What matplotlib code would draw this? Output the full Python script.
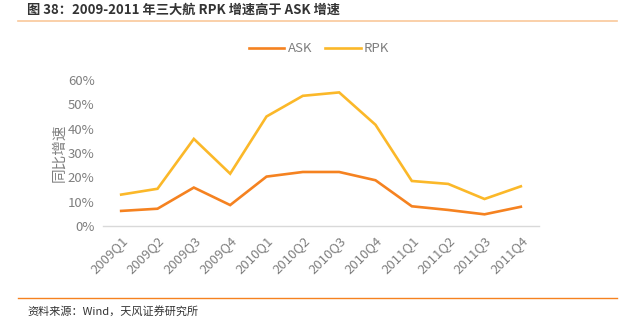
import matplotlib
matplotlib.use("Agg")
import matplotlib.pyplot as plt
from matplotlib.lines import Line2D
from matplotlib.ticker import FuncFormatter

plt.rcParams['font.family'] = ['Noto Sans CJK SC', 'DejaVu Sans']

quarters = ["2009Q1", "2009Q2", "2009Q3", "2009Q4",
            "2010Q1", "2010Q2", "2010Q3", "2010Q4",
            "2011Q1", "2011Q2", "2011Q3", "2011Q4"]
ask = [6.2, 7.1, 15.8, 8.6, 20.3, 22.2, 22.2, 18.8, 8.1, 6.6, 4.8, 7.9]
rpk = [12.9, 15.3, 35.8, 21.5, 45.0, 53.5, 54.9, 41.6, 18.5, 17.3, 11.1, 16.3]
yticks = [0, 10, 20, 30, 40, 50, 60]

ask_color = "#F58220"
rpk_color = "#FBB829"
gray = "#7F7F7F"

fig = plt.figure(figsize=(6.38, 3.22), dpi=100)
ax = fig.add_axes([103 / 638, 1 - 226 / 322, 436 / 638, 146 / 322])

x = range(len(quarters))
ax.plot(x, ask, color=ask_color, lw=1.9, label="ASK", solid_joinstyle="miter")
ax.plot(x, rpk, color=rpk_color, lw=1.9, label="RPK", solid_joinstyle="miter")

ax.set_xlim(-0.5, len(quarters) - 0.5)
ax.set_ylim(0, 60)
ax.set_yticks(yticks)
ax.yaxis.set_major_formatter(FuncFormatter(lambda v, p: f"{v:.0f}%"))
ax.set_xticks(list(x))
ax.set_xticklabels(quarters, rotation=45, ha="right", rotation_mode="anchor")

for s in ["top", "right", "left"]:
    ax.spines[s].set_visible(False)
ax.spines["bottom"].set_color("#D9D9D9")
ax.spines["bottom"].set_linewidth(1.0)
ax.tick_params(axis="both", length=0, colors=gray, labelsize=9.5)
ax.tick_params(axis="y", pad=6)
ax.tick_params(axis="x", pad=6)
ax.set_ylabel("同比增速", color=gray, fontsize=10.5, labelpad=1)

handles = [Line2D([], [], color=ask_color, lw=1.9),
           Line2D([], [], color=rpk_color, lw=1.9)]
fig.legend(handles, ["ASK", "RPK"], loc="center", bbox_to_anchor=(319 / 638, 1 - 49 / 322),
           ncol=2, frameon=False, fontsize=9.5, labelcolor=gray,
           handlelength=2.7, columnspacing=1.0, handletextpad=0.25)

# header and footer
fig.text(27 / 638, 1 - 10 / 322, "图 38：2009-2011 年三大航 RPK 增速高于 ASK 增速",
         fontsize=9.5, fontweight="bold", color="#333333", va="center")
fig.add_artist(Line2D([18 / 638, 617 / 638], [1 - 20.5 / 322] * 2, color="#F9C89B", lw=1.2))
fig.add_artist(Line2D([18 / 638, 617 / 638], [1 - 298 / 322] * 2, color=ask_color, lw=1.0))
fig.text(27 / 638, 1 - 311 / 322, "资料来源：Wind，天风证券研究所",
         fontsize=8, color="#333333", va="center")

fig.savefig("out.png", dpi=100)
